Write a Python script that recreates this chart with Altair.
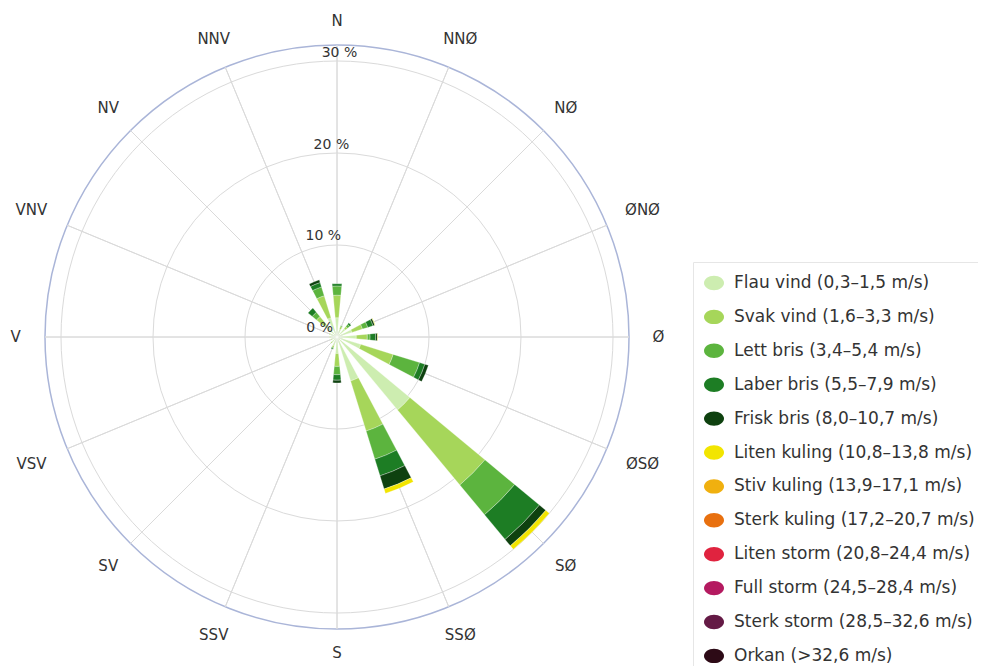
import math
import altair as alt
import pandas as pd

# ---------------- data ----------------
DIRECTIONS = ["N", "NNØ", "NØ", "ØNØ", "Ø", "ØSØ", "SØ", "SSØ",
              "S", "SSV", "SV", "VSV", "V", "VNV", "NV", "NNV"]

CLASSES = [
    "Flau vind (0,3–1,5 m/s)",
    "Svak vind (1,6–3,3 m/s)",
    "Lett bris (3,4–5,4 m/s)",
    "Laber bris (5,5–7,9 m/s)",
    "Frisk bris (8,0–10,7 m/s)",
    "Liten kuling (10,8–13,8 m/s)",
    "Stiv kuling (13,9–17,1 m/s)",
    "Sterk kuling (17,2–20,7 m/s)",
    "Liten storm (20,8–24,4 m/s)",
    "Full storm (24,5–28,4 m/s)",
    "Sterk storm (28,5–32,6 m/s)",
    "Orkan (>32,6 m/s)",
]
COLORS = ["#cdedb0", "#a6d65a", "#5cb43e", "#1d7d24", "#0e410f", "#f2e500",
          "#f0b00f", "#e8700f", "#e0233f", "#b41a60", "#641a45", "#2d0a16"]

# percent of time per direction (same order as DIRECTIONS)
FLAU = [2.1, 0.9, 1.2, 1.7, 2.1, 2.7, 10.3, 5.0, 1.8, 1.0, 0.8, 0.6, 0.7, 0.8, 1.8, 2.2]
SVAK = [2.45, 0.3, 0.3, 1.2, 1.2, 3.7, 10.6, 5.7, 1.4, 0.2, 0.1, 0.1, 0.1, 0.1, 1.1, 2.5]
LETT = [1.0, 0.1, 0.3, 0.6, 0.3, 3.0, 4.2, 3.2, 0.9, 0.1, 0.0, 0.0, 0.0, 0.0, 0.6, 1.0]
LABER = [0.25, 0.0, 0.2, 0.6, 0.6, 0.6, 3.5, 1.9, 0.6, 0.1, 0.0, 0.0, 0.0, 0.0, 0.6, 0.5]
FRISK = [0.0, 0.0, 0.0, 0.2, 0.2, 0.4, 0.9, 1.5, 0.3, 0.0, 0.0, 0.0, 0.0, 0.0, 0.0, 0.3]
LITEN_KULING = [0.0, 0.0, 0.0, 0.05, 0.05, 0.0, 0.5, 0.5, 0.0, 0.0, 0.0, 0.0, 0.0, 0.0, 0.0, 0.0]
SERIES = [FLAU, SVAK, LETT, LABER, FRISK, LITEN_KULING]

GRID_LEVELS = [10, 20, 30]
PANE_MAX = 31.74
PCT_LABELS = ["0 %", "10 %", "20 %", "30 %"]
PCT_VALUES = [0, 10, 20, 30]

rows = []
for ci, series in enumerate(SERIES):
    for di, v in enumerate(series):
        if v > 0:
            rows.append({"dir": DIRECTIONS[di], "di": di, "cls": CLASSES[ci], "ci": ci, "pct": v})
df = pd.DataFrame(rows)
dir_df = pd.DataFrame({"label": DIRECTIONS, "di": list(range(len(DIRECTIONS)))})

# ---------------- scales ----------------
theta_scale = alt.Scale(type="linear", domain=[0, 360], range=[0, 2 * math.pi], nice=False, zero=False)
r_scale = alt.Scale(type="linear", domain=[0, 30], range=[0, 276], nice=False, zero=True)

GRID = "#dadada"
FONT = "DejaVu Sans"

pane = alt.Chart(pd.DataFrame({"v": [PANE_MAX]})).transform_calculate(
    t0="0", t1="360"
).mark_arc(filled=False, stroke="#aab5d8", strokeWidth=1.5).encode(
    theta=alt.Theta("t0:Q", scale=theta_scale, stack=None),
    theta2="t1:Q",
    radius=alt.Radius("v:Q", scale=r_scale),
)

grid = alt.Chart(pd.DataFrame({"v": GRID_LEVELS})).transform_calculate(
    t0="0", t1="360"
).mark_arc(filled=False, stroke=GRID, strokeWidth=1).encode(
    theta=alt.Theta("t0:Q", scale=theta_scale, stack=None),
    theta2="t1:Q",
    radius=alt.Radius("v:Q", scale=r_scale),
)

spokes = alt.Chart(dir_df).transform_calculate(
    a="datum.di * 22.5", r=str(PANE_MAX)
).mark_arc(filled=False, stroke=GRID, strokeWidth=1).encode(
    theta=alt.Theta("a:Q", scale=theta_scale, stack=None),
    theta2="a:Q",
    radius=alt.Radius("r:Q", scale=r_scale),
)

bars = alt.Chart(df).transform_stack(
    stack="pct", groupby=["dir"], as_=["r0", "r1"],
    sort=[alt.SortField("ci", order="ascending")],
).transform_calculate(
    a0="datum.di * 22.5 - 5.3", a1="datum.di * 22.5 + 5.3"
).mark_arc(stroke="white", strokeWidth=0.5, strokeOpacity=0.6).encode(
    theta=alt.Theta("a0:Q", scale=theta_scale, stack=None),
    theta2="a1:Q",
    radius=alt.Radius("r0:Q", scale=r_scale),
    radius2="r1:Q",
    color=alt.Color(
        "cls:N",
        scale=alt.Scale(domain=CLASSES, range=COLORS),
        legend=alt.Legend(
            title=None, orient="none", legendX=685, legendY=254,
            symbolType="M-1,0A1,0.72,0,1,1,1,0A1,0.72,0,1,1,-1,0Z",
            symbolSize=400, symbolStrokeWidth=0, symbolOpacity=1,
            labelFont=FONT, labelFontSize=17, labelColor="#333333",
            labelOffset=10, labelLimit=400, rowPadding=15.9, padding=11,
            fillColor="white", strokeColor="#e6e6e6",
        ),
    ),
)

pct_text = alt.Chart(pd.DataFrame({"v": PCT_VALUES, "label": PCT_LABELS})).transform_calculate(
    a="5.05"
).mark_text(font=FONT, fontSize=14, color="#333333", align="right", baseline="middle", dx=-4, dy=-9).encode(
    theta=alt.Theta("a:Q", scale=theta_scale, stack=None),
    radius=alt.Radius("v:Q", scale=r_scale),
    text="label:N",
)

dir_text = alt.Chart(dir_df).transform_calculate(
    a="datum.di * 22.5",
    r="(316 + 5.3 * length(datum.label) * abs(sin(datum.di * 22.5 * PI / 180))) / 9.2",
).mark_text(font=FONT, fontSize=15, color="#333333", align="center", baseline="middle").encode(
    theta=alt.Theta("a:Q", scale=theta_scale, stack=None),
    radius=alt.Radius("r:Q", scale=r_scale),
    text="label:N",
)

chart = alt.layer(pane, grid, spokes, bars, pct_text, dir_text).properties(
    width=658, height=658,
    autosize=alt.AutoSizeParams(type="none"),
    padding={"left": 0, "top": 0, "right": 312, "bottom": 6},
    background="white",
).configure_view(stroke=None)

chart.save("out.html", embed_options={"renderer": "svg", "actions": False})
